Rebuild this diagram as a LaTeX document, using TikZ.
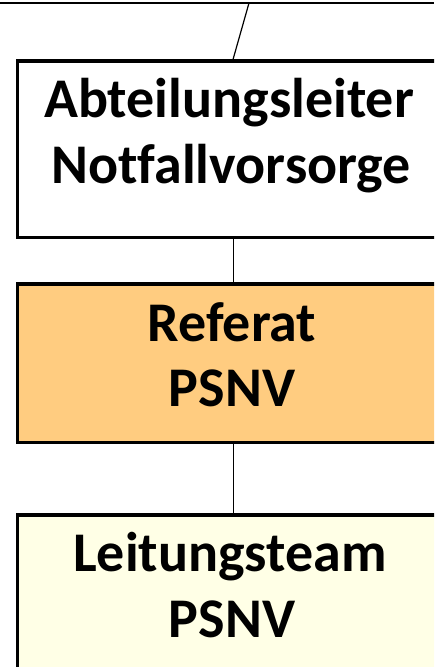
\documentclass[tikz,border=0pt]{standalone}
\usepackage{fontspec}
\setmainfont{Carlito}[Ligatures=NoCommon]
\definecolor{refcol}{HTML}{FFCC80}
\definecolor{leitcol}{HTML}{FFFFE6}
\begin{document}
\begin{tikzpicture}[x=1pt,y=-1pt,
  orgbox/.style={draw=black,line width=3.8pt,rectangle,inner sep=0pt,anchor=north west,minimum width=431.5pt},
  boxtext/.style={anchor=base,inner sep=0pt,font=\fontsize{56}{66}\selectfont\bfseries},
  conn/.style={draw=black,line width=1.2pt}]
\useasboundingbox (0,0) rectangle (434,667);
\clip (0,0) rectangle (434,667);
\coordinate (tl) at (0,3);
\coordinate (tr) at (434,3);
\coordinate (tj) at (249,3);
\draw[line width=2pt] (tl) -- (tr);
\node[orgbox,fill=white,minimum height=176.5pt] (b1) at (15.5,59) {};
\node[orgbox,fill=refcol,minimum height=158.5pt] (b2) at (15.5,282) {};
\node[orgbox,fill=leitcol,minimum height=200pt] (b3) at (15.5,513) {};
\node[boxtext] (t1a) at (229,117.7) {Abteilungsleiter};
\node[boxtext] (t1b) at (231,183.5) {Notfallvorsorge};
\node[boxtext] (t2a) at (232,341) {Referat};
\node[boxtext] (t2b) at (232,406) {PSNV};
\node[boxtext] (t3a) at (230,571.7) {Leitungsteam};
\node[boxtext] (t3b) at (232,637.7) {PSNV};
\draw[conn] (tj) -- (b1.north);
\draw[conn] (b1.south) -- (b2.north);
\draw[conn] (b2.south) -- (b3.north);
\end{tikzpicture}
\end{document}
